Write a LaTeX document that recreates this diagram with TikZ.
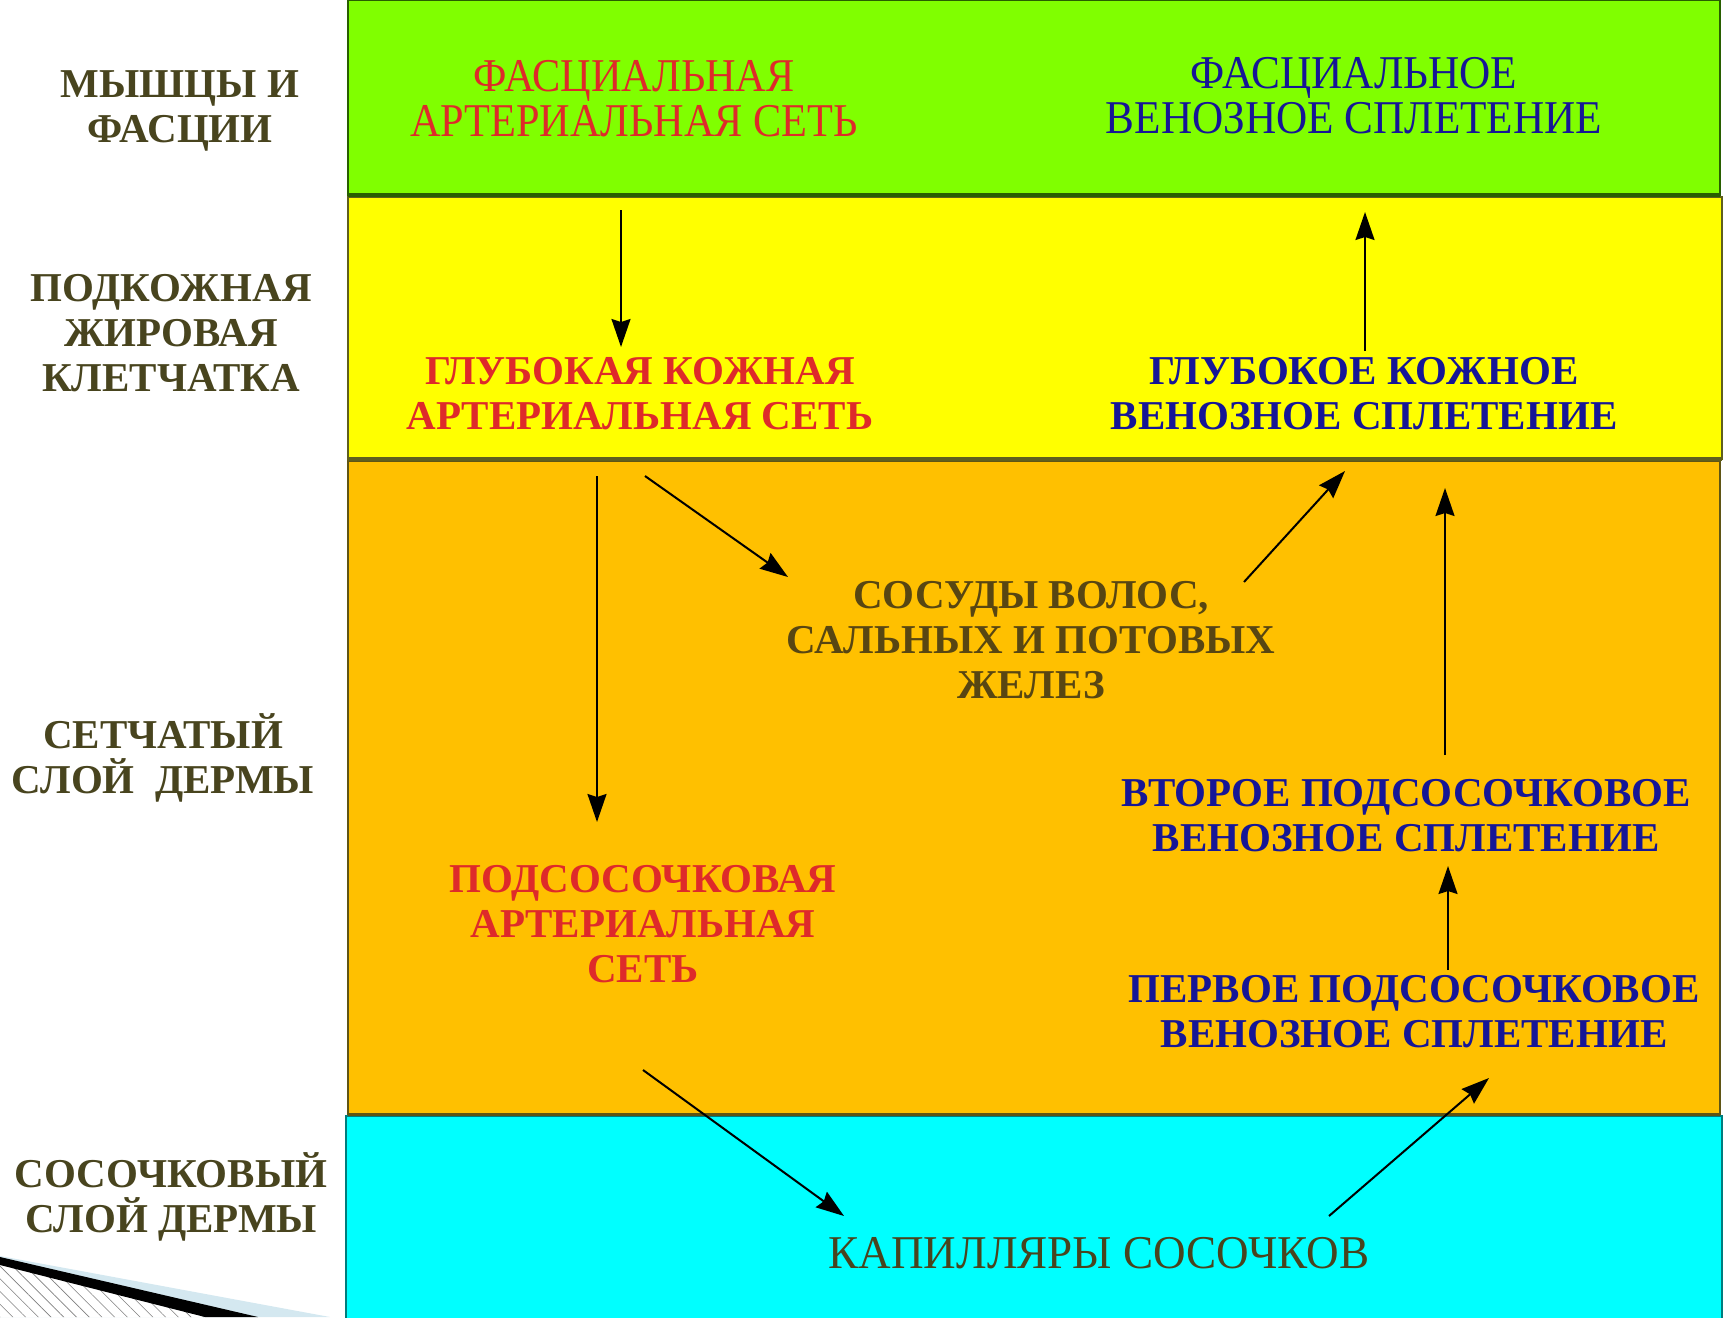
\documentclass[tikz,border=0pt]{standalone}
\usepackage{fontspec}
\setmainfont{Liberation Serif}
\usepackage{tikz}
\usetikzlibrary{arrows.meta,%
                calc,patterns.meta,positioning}

\definecolor{layertext}{RGB}{72,68,30}
\definecolor{glandtext}{RGB}{88,70,18}
\definecolor{artred}{RGB}{222,42,42}
\definecolor{venblue}{RGB}{22,22,150}
\definecolor{fasciagreen}{RGB}{128,255,0}
\definecolor{fasciaedge}{RGB}{40,95,0}
\definecolor{fatyellow}{RGB}{255,255,0}
\definecolor{yellowedge}{RGB}{95,95,30}
\definecolor{dermisorange}{RGB}{255,192,0}
\definecolor{orangeedge}{RGB}{95,85,20}
\definecolor{papcyan}{RGB}{0,255,255}
\definecolor{cyanedge}{RGB}{0,125,125}
\definecolor{decoblue}{RGB}{212,232,240}

\begin{document}
\begin{tikzpicture}[x=1pt,y=-1pt,
  lbl/.style={font=\bfseries\fontsize{41}{45}\selectfont,align=center,inner sep=0pt,text=layertext},
  art/.style={lbl,text=artred},
  ven/.style={lbl,text=venblue},
  slim/.style={font=\fontsize{47}{45}\selectfont,xscale=#1},
  slim/.default=0.9,
  flow/.style={-{Stealth[length=28pt,width=19pt,inset=3pt]},line width=2pt}]
\useasboundingbox (0,0) rectangle (1729,1317);

\draw[fill=fasciagreen,draw=fasciaedge,line width=2pt] (348,0) rectangle (1720,195);
\draw[fill=fatyellow,draw=yellowedge,line width=2pt] (348,197) rectangle (1722,459);
\draw[fill=dermisorange,draw=orangeedge,line width=2pt] (348,461) rectangle (1720,1114);
\draw[fill=papcyan,draw=cyanedge,line width=2pt] (346,1116) rectangle (1722,1330);
\draw[fasciaedge,line width=4pt] (348,195) -- (1720,195);
\draw[yellowedge,line width=4pt] (348,459) -- (1722,459);
\draw[orangeedge,line width=3pt] (348,1114) -- (1720,1114);

\fill[decoblue] (0,1256) -- (330,1317) -- (0,1317) -- cycle;
\fill[white] (0,1264) -- (205,1317) -- (0,1317) -- cycle;
\fill[pattern={Lines[angle=-45,distance=9pt,line width=0.6pt]},pattern color=gray] (0,1264) -- (205,1317) -- (0,1317) -- cycle;
\fill[black] (0,1257) -- (258,1317) -- (205,1317) -- (0,1265) -- cycle;

\node[lbl] (muscles) at (180,111) {МЫШЦЫ И\\ФАСЦИИ};
\node[lbl] (subcut) at (171,333) {ПОДКОЖНАЯ\\ЖИРОВАЯ\\КЛЕТЧАТКА};
\node[lbl] (reticular) at (163,758) {СЕТЧАТЫЙ\\СЛОЙ\ \ ДЕРМЫ};
\node[lbl] (papillary) at (171,1197) {СОСОЧКОВЫЙ\\СЛОЙ ДЕРМЫ};

\node[art,slim=0.9] (fasart) at (634,99) {ФАСЦИАЛЬНАЯ\\АРТЕРИАЛЬНАЯ СЕТЬ};
\node[ven,slim=0.92] (fasven) at (1354,96) {ФАСЦИАЛЬНОЕ\\ВЕНОЗНОЕ СПЛЕТЕНИЕ};
\node[art] (deepart) at (640,394) {ГЛУБОКАЯ КОЖНАЯ\\АРТЕРИАЛЬНАЯ СЕТЬ};
\node[ven] (deepven) at (1364,394) {ГЛУБОКОЕ КОЖНОЕ\\ВЕНОЗНОЕ СПЛЕТЕНИЕ};
\node[lbl,text=glandtext] (glands) at (1031,640) {СОСУДЫ ВОЛОС,\\САЛЬНЫХ И ПОТОВЫХ\\ЖЕЛЕЗ};
\node[art] (subart) at (643,924) {ПОДСОСОЧКОВАЯ\\АРТЕРИАЛЬНАЯ\\СЕТЬ};
\node[ven] (secven) at (1406,816) {ВТОРОЕ ПОДСОСОЧКОВОЕ\\ВЕНОЗНОЕ СПЛЕТЕНИЕ};
\node[ven] (firstven) at (1414,1012) {ПЕРВОЕ ПОДСОСОЧКОВОЕ\\ВЕНОЗНОЕ СПЛЕТЕНИЕ};
\node[lbl,slim=0.96,text=layertext] (capil) at (1099,1253) {КАПИЛЛЯРЫ СОСОЧКОВ};

\draw[flow] ($(fasart)+(-13,111)$) -- ($(deepart)+(-19,-47)$);
\draw[flow] ($(deepven)+(1,-43)$) -- ($(fasven)+(11,116)$);
\draw[flow] ($(deepart)+(-43,82)$) -- ($(subart)+(-46,-102)$);
\draw[flow] ($(deepart)+(5,82)$) -- ($(glands)+(-243,-63)$);
\draw[flow] ($(glands)+(213,-58)$) -- ($(deepven)+(-19,77)$);
\draw[flow] ($(secven)+(39,-61)$) -- ($(deepven)+(81,94)$);
\draw[flow] ($(firstven)+(34,-42)$) -- ($(secven)+(42,50)$);
\draw[flow] ($(subart)+(0,146)$) -- ($(capil)+(-255,-37)$);
\draw[flow] ($(capil)+(230,-37)$) -- ($(firstven)+(75,66)$);

\end{tikzpicture}
\end{document}
